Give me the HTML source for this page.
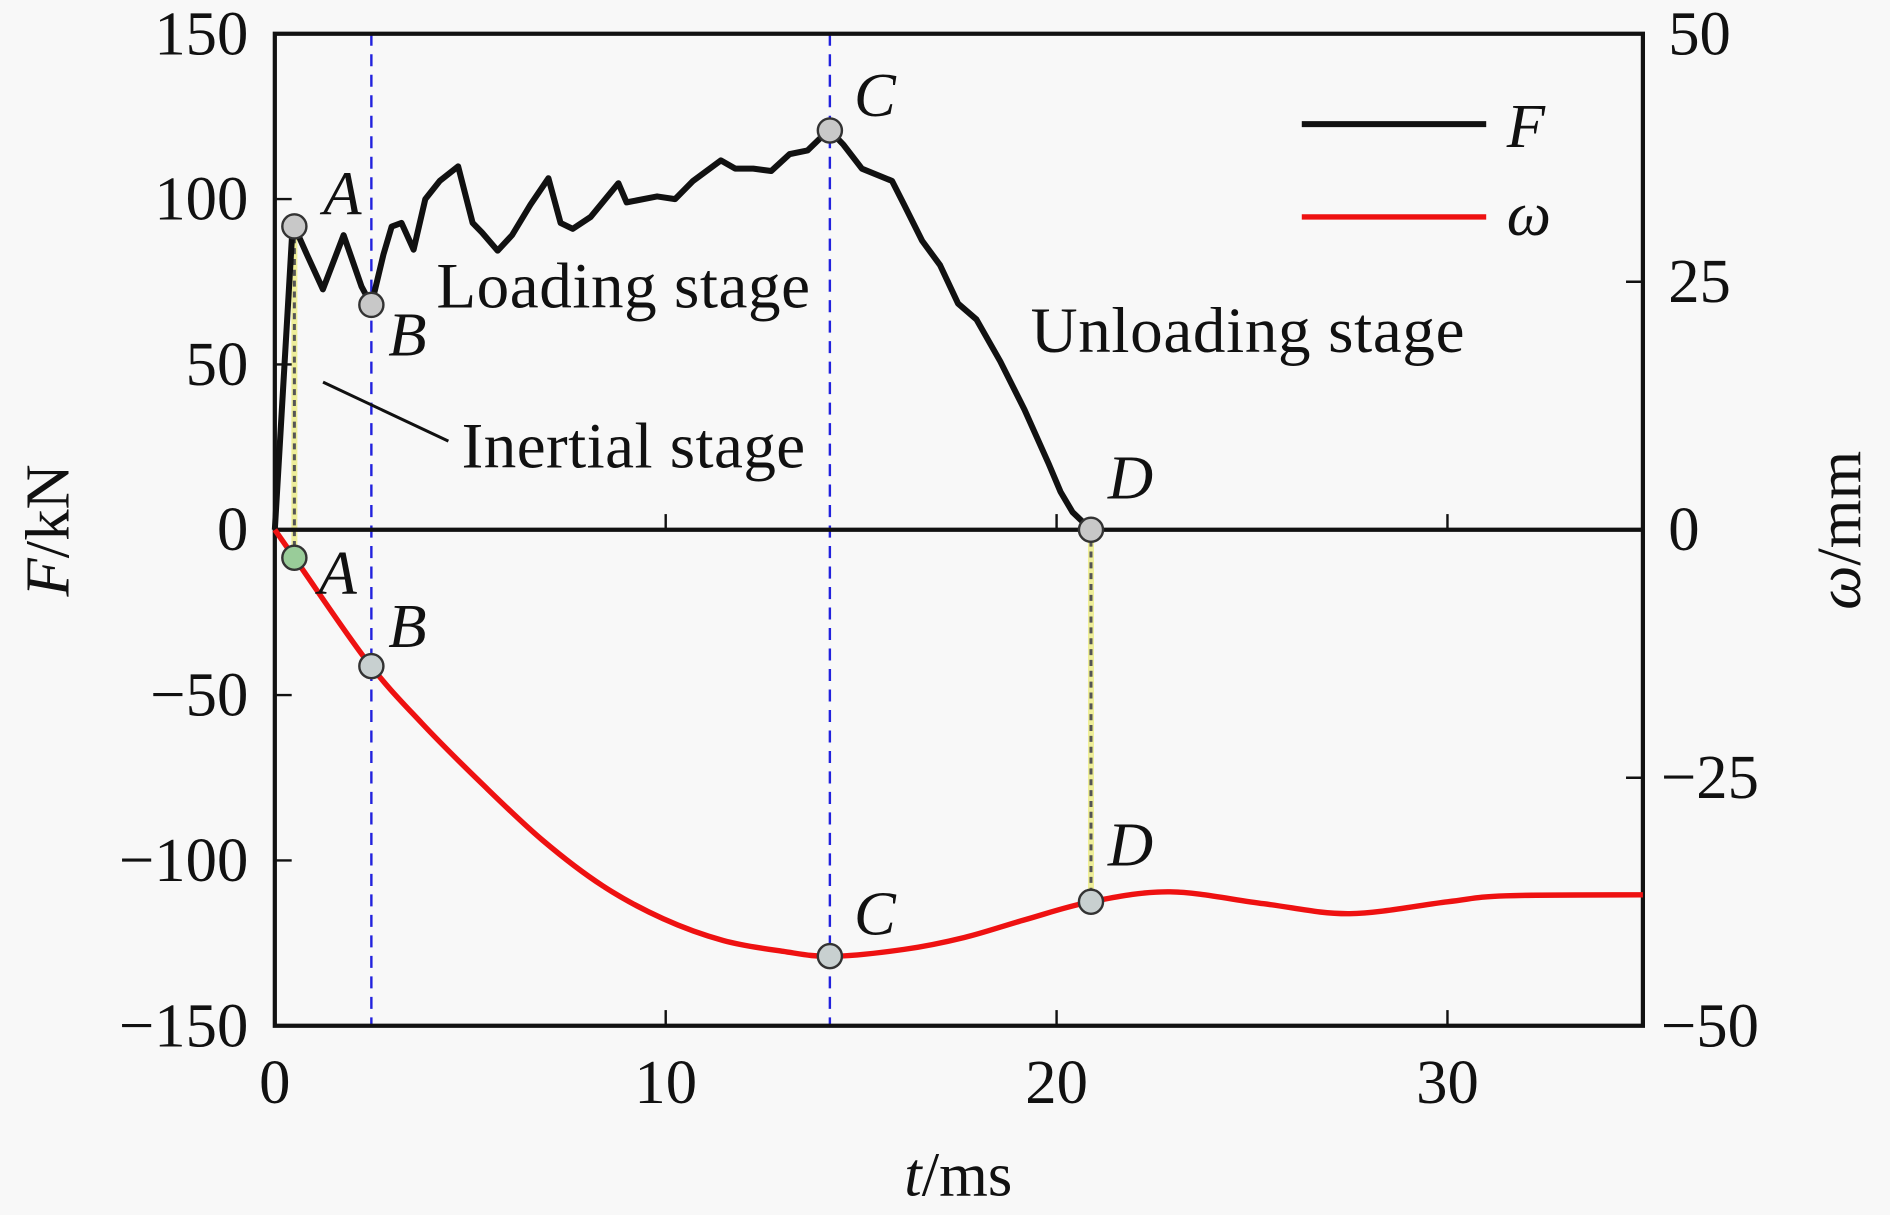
<!DOCTYPE html>
<html><head><meta charset="utf-8"><style>
html,body{margin:0;padding:0;background:#f8f8f8;}
svg{display:block;}
text{font-family:"Liberation Serif",serif;fill:#111;}
.tk{font-size:52px;}
.st{font-size:54px;}
.it{font-style:italic;}
</style></head><body>
<svg id="chart" width="1890" height="1215" viewBox="0 0 1568 1008" xmlns="http://www.w3.org/2000/svg">
<rect x="0" y="0" width="1568" height="1008" fill="#f8f8f8"/>
<g id="g"></g>
</svg>
<script>
const tForce=[0,0.46,0.83,1.23,1.76,2.22,2.47,2.78,2.99,3.24,3.55,3.85,4.22,4.69,5.06,5.30,5.70,6.07,6.54,7.00,7.31,7.62,8.08,8.79,9.00,9.78,10.24,10.70,11.41,11.78,12.24,12.70,13.17,13.63,14.18,14.55,15.02,15.79,16.10,16.56,17.02,17.48,17.95,18.56,19.18,19.80,20.10,20.41,20.88];
const forceVals=[0,92.8,83,72.7,89.1,73.5,68,83.3,91.7,92.8,84.7,100,105.5,109.9,92.8,89.9,84.4,89.1,98.3,106.3,92.8,91,94.6,104.8,99,100.8,100,105.5,111.7,109.2,109.2,108.5,113.6,114.7,121,116.4,109.2,105.5,98.3,87.4,80,68.4,63.6,50.9,36.3,19.9,11.5,5.3,0];
const tDisp=[0,0.62,2.37,3.76,5.3,6.85,8.39,9.93,11.47,13.0,14.25,16.1,17.64,19.2,20.88,22.9,25.3,27.5,30,31.5,35];
const dispVals=[0,-3.5,-13.3,-19.5,-25.6,-31.3,-35.9,-39.2,-41.4,-42.5,-43,-42.3,-41.1,-39.3,-37.5,-36.5,-37.7,-38.7,-37.5,-36.9,-36.8];
const xTicks=[0,10,20,30];
const fTicks=[150,100,50,0,-50,-100,-150];
const wTicks=[50,25,0,-25,-50];
const keyT=[0.5,2.47,14.2,20.88];
const keyLbl=['A','B','C','D'];

const L=228,R=1363,T=28,B=851;
const X=t=>L+(t-0)/35*(R-L);
const YF=f=>T+(150-f)/300*(B-T);
const YW=w=>T+(50-w)/100*(B-T);
const NS='http://www.w3.org/2000/svg';
const g=document.getElementById('g');
function el(tag,a,txt){const e=document.createElementNS(NS,tag);for(const k in a)e.setAttribute(k,a[k]);if(txt!==undefined)e.textContent=txt;g.appendChild(e);return e;}
function interp(ts,vs,t){for(let i=1;i<ts.length;i++){if(t<=ts[i]){const r=(t-ts[i-1])/(ts[i]-ts[i-1]);return vs[i-1]+r*(vs[i]-vs[i-1]);}}return vs[vs.length-1];}
function smooth(pts){let d='M'+pts[0][0]+','+pts[0][1];for(let i=0;i<pts.length-1;i++){const p0=pts[i-1]||pts[i],p1=pts[i],p2=pts[i+1],p3=pts[i+2]||p2;d+=' C'+(p1[0]+(p2[0]-p0[0])/6)+','+(p1[1]+(p2[1]-p0[1])/6)+' '+(p2[0]-(p3[0]-p1[0])/6)+','+(p2[1]-(p3[1]-p1[1])/6)+' '+p2[0]+','+p2[1];}return d;}

[1,2].forEach(i=>{const e=el('line',{x1:X(keyT[i]),x2:X(keyT[i]),y1:T,y2:B,stroke:'#2222dd','stroke-width':2,'stroke-dasharray':'10,7'});

});
[0,3].forEach(i=>{const fy=YF(interp(tForce,forceVals,keyT[i]));const wy=YW(interp(tDisp,dispVals,keyT[i]));
const e1=el('line',{x1:X(keyT[i]),x2:X(keyT[i]),y1:fy,y2:wy,stroke:'#eeee99','stroke-width':5});


const e=el('line',{x1:X(keyT[i]),x2:X(keyT[i]),y1:fy,y2:wy,stroke:'#555','stroke-width':2.5,'stroke-dasharray':'5,4'});

});

const fr=el('rect',{x:L,y:T,width:R-L,height:B-T,fill:'none',stroke:'#111','stroke-width':3.5});


const zl=el('line',{x1:L,x2:R,y1:YF(0),y2:YF(0),stroke:'#111','stroke-width':3.5});



xTicks.forEach(v=>{const x=X(v);
if(v>0){const a=el('line',{x1:x,x2:x,y1:B,y2:B-13,stroke:'#111','stroke-width':2});
const b=el('line',{x1:x,x2:x,y1:YF(0),y2:YF(0)-13,stroke:'#111','stroke-width':2});}
const t=el('text',{x:x,y:915,'text-anchor':'middle',class:'tk'},String(v));

});
fTicks.forEach(v=>{const y=YF(v);
if(v!==150&&v!==-150&&v!==0){const a=el('line',{x1:L,x2:L+14,y1:y,y2:y,stroke:'#111','stroke-width':2});}
const t=el('text',{x:206,y:y+17,'text-anchor':'end',class:'tk'},v<0?'\u2212'+(-v):String(v));

});
wTicks.forEach(v=>{const y=YW(v);
if(v===25||v===-25){const a=el('line',{x1:R,x2:R-14,y1:y,y2:y,stroke:'#111','stroke-width':2});}
const t=el('text',{x:v<0?1378:1384,y:y+17,'text-anchor':'start',class:'tk'},v<0?'\u2212'+(-v):String(v));

});

const fp=el('polyline',{points:tForce.map((t,i)=>X(t)+','+YF(forceVals[i])).join(' '),fill:'none',stroke:'#111','stroke-width':5,'stroke-linejoin':'round'});


const wp=el('path',{d:smooth(tDisp.map((t,i)=>[X(t),YW(dispVals[i])])),fill:'none',stroke:'#ee1111','stroke-width':4.5});



const fOff=[[24,-10],[14,42],[20,-12],[14,-26]],wOff=[[20,16],[14,-16],[20,-18],[14,-30]];
keyT.forEach((t,i)=>{
const fy=YF(interp(tForce,forceVals,t)),wy=YW(interp(tDisp,dispVals,t));
const c1=el('circle',{cx:X(t),cy:fy,r:10,fill:'#c8c8c8',stroke:'#333','stroke-width':2});


const c2=el('circle',{cx:X(t),cy:wy,r:10,fill:i===0?'#9c9':'#c8d0d0',stroke:'#333','stroke-width':2});


const l1=el('text',{x:X(t)+fOff[i][0],y:fy+fOff[i][1],class:'tk it'},keyLbl[i]);


const l2=el('text',{x:X(t)+wOff[i][0],y:wy+wOff[i][1]+(i===0?14:0),class:'tk it'},keyLbl[i]);

});
</script>
<script>
(function(){const NS='http://www.w3.org/2000/svg';const g=document.getElementById('g');
function el(tag,a,txt){const e=document.createElementNS(NS,tag);for(const k in a)e.setAttribute(k,a[k]);if(txt!==undefined)e.textContent=txt;g.appendChild(e);return e;}
let e;
e=el('text',{x:362,y:255,class:'st',textLength:310},'Loading stage');
e=el('text',{x:855,y:292,class:'st',textLength:360},'Unloading stage');
e=el('text',{x:383,y:388,class:'st',textLength:285},'Inertial stage');
e=el('line',{x1:268,y1:317,x2:372,y2:366,stroke:'#111','stroke-width':2.5});
e=el('line',{x1:1080,x2:1233,y1:103,y2:103,stroke:'#111','stroke-width':5});
e=el('text',{x:1250,y:122,class:'tk it'},'F');
e=el('line',{x1:1080,x2:1233,y1:180,y2:180,stroke:'#ee1111','stroke-width':4.5});
e=el('text',{x:1250,y:195,class:'tk it'},'ω');
e=el('text',{x:795,y:992,'text-anchor':'middle',class:'tk'});
e.innerHTML='<tspan font-style="italic">t</tspan>/ms';
e=el('text',{x:0,y:0,'text-anchor':'middle',class:'tk',transform:'translate(57,440) rotate(-90)'});
e.innerHTML='<tspan font-style="italic">F</tspan>/kN';
e=el('text',{x:0,y:0,'text-anchor':'middle',class:'tk',transform:'translate(1543,440) rotate(-90)'});
e.innerHTML='<tspan font-style="italic">ω</tspan>/mm';
})();
</script>
</body></html>
